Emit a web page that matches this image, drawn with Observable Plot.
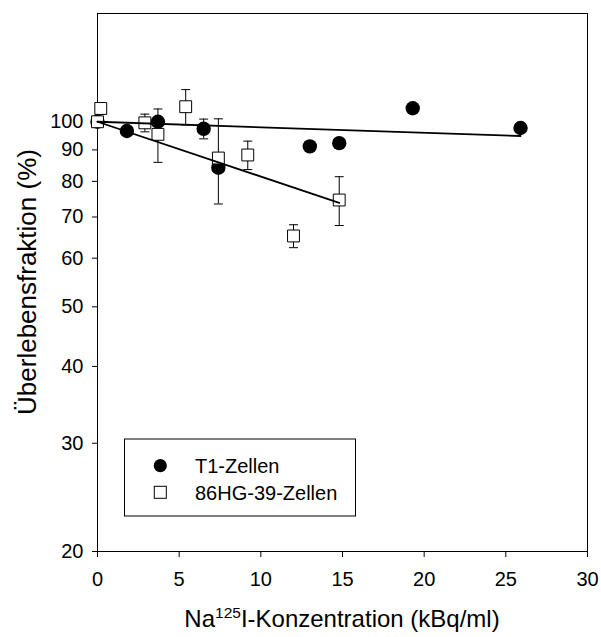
<!DOCTYPE html>
<html><head><meta charset="utf-8">
<script src="https://cdn.jsdelivr.net/npm/d3@7"></script>
<script src="https://cdn.jsdelivr.net/npm/@observablehq/plot@0.6"></script>
<style>
body{margin:0;background:#fff;}
#chart svg{font-family: Arial, "Liberation Sans", sans-serif; background:#fff;}
</style>
</head><body><div id="chart"></div>
<script>
// T1-Zellen (filled circles)
const t1X   = [0, 1.8, 3.7, 6.5, 7.4, 13.0, 14.8, 19.3, 25.9];
const t1Y   = [100, 96.6, 100, 97.4, 84.2, 91.2, 92.3, 105.2, 97.7];
const t1Err = [0, 0, 0, 3.6, 0, 0, 0, 0, 0];
// 86HG-39-Zellen (open squares)
const hgX   = [0, 0.2, 2.9, 3.7, 5.4, 7.4, 9.2, 12.0, 14.8];
const hgY   = [100, 105.1, 99.6, 95.4, 105.8, 87.3, 88.3, 65.2, 74.6];
const hgErr = [0, 0, 3.3, 9.5, 7.0, 13.8, 4.7, 2.8, 6.8];
// fitted lines
const t1FitX = [0, 25.9];
const t1FitY = [100, 94.8];
const hgFitX = [0, 14.8];
const hgFitY = [100, 73.8];
// ticks
const xTicks = [0, 5, 10, 15, 20, 25, 30];
const yTicks = [20, 30, 40, 50, 60, 70, 80, 90, 100];
const seriesNames = ["T1-Zellen", "86HG-39-Zellen"];

const t1 = t1X.map((x, i) => ({x, y: t1Y[i], e: t1Err[i]}));
const hg = hgX.map((x, i) => ({x, y: hgY[i], e: hgErr[i]}));
const t1E = t1.filter(d => d.e > 0);
const hgE = hg.filter(d => d.e > 0);
const t1Fit = t1FitX.map((x, i) => ({x, y: t1FitY[i]}));
const hgFit = hgFitX.map((x, i) => ({x, y: hgFitY[i]}));

const cap = {draw(ctx) { ctx.moveTo(-4.5, 0); ctx.lineTo(4.5, 0); }};

function errMarks(data) {
  return [
    Plot.ruleX(data, {x: "x", y1: d => d.y - d.e, y2: d => d.y + d.e, stroke: "black", strokeWidth: 1}),
    Plot.dot(data, {x: "x", y: d => d.y + d.e, symbol: cap, stroke: "black", strokeWidth: 1, fill: "none"}),
    Plot.dot(data, {x: "x", y: d => d.y - d.e, symbol: cap, stroke: "black", strokeWidth: 1, fill: "none"})
  ];
}

const W = 601, H = 637;
const plot = Plot.plot({
  width: W, height: H,
  marginLeft: 97, marginRight: 14, marginTop: 13, marginBottom: 86,
  style: {fontFamily: "Arial, 'Liberation Sans', sans-serif", fontSize: "20px", color: "black", background: "white"},
  x: {domain: [0, 30]},
  y: {type: "log", domain: [20, 150]},
  marks: [
    Plot.frame({stroke: "black", strokeWidth: 1}),
    Plot.axisX({ticks: xTicks, tickSize: 6, tickPadding: 14, tickFormat: d => d, label: null, fontSize: 20}),
    Plot.axisY({ticks: yTicks, tickSize: 5, tickPadding: 9, tickFormat: d => d, label: null, fontSize: 20}),
    ...errMarks(t1E),
    Plot.dot(t1, {x: "x", y: "y", r: 7.2, fill: "black", stroke: "none"}),
    ...errMarks(hgE),
    Plot.dot(hg, {x: "x", y: "y", symbol: "square", r: 6.7, fill: "white", stroke: "black", strokeWidth: 1}),
    Plot.line(t1Fit, {x: "x", y: "y", stroke: "black", strokeWidth: 1.8}),
    Plot.line(hgFit, {x: "x", y: "y", stroke: "black", strokeWidth: 1.8})
  ]
});

const svg = d3.select(plot);
// axis titles
const xl = svg.append("text")
  .attr("x", 342).attr("y", 627)
  .attr("text-anchor", "middle")
  .attr("font-size", 24).attr("fill", "black");
xl.append("tspan").text("Na");
xl.append("tspan").attr("font-size", 15.5).attr("dy", -9.5).text("125");
xl.append("tspan").attr("dy", 9.5).text("I-Konzentration (kBq/ml)");

svg.append("text")
  .attr("transform", "translate(36,282) rotate(-90)")
  .attr("text-anchor", "middle")
  .attr("font-size", 26).attr("fill", "black")
  .text("Überlebensfraktion (%)");

// legend
const lg = svg.append("g").attr("text-anchor", "start");
lg.append("rect").attr("x", 124.5).attr("y", 439).attr("width", 231).attr("height", 77)
  .attr("fill", "white").attr("stroke", "black").attr("stroke-width", 1);
lg.append("circle").attr("cx", 160.3).attr("cy", 465.7).attr("r", 6.6).attr("fill", "black");
lg.append("rect").attr("x", 154.3).attr("y", 486.3).attr("width", 12).attr("height", 12)
  .attr("fill", "white").attr("stroke", "black").attr("stroke-width", 1);
seriesNames.forEach((name, i) => {
  lg.append("text").attr("x", 195).attr("y", [465.7, 492.3][i]).attr("dy", "0.36em")
    .attr("text-anchor", "start")
    .attr("font-size", 20).attr("fill", "black").text(name);
});

document.getElementById("chart").appendChild(plot);
</script>
</body></html>
